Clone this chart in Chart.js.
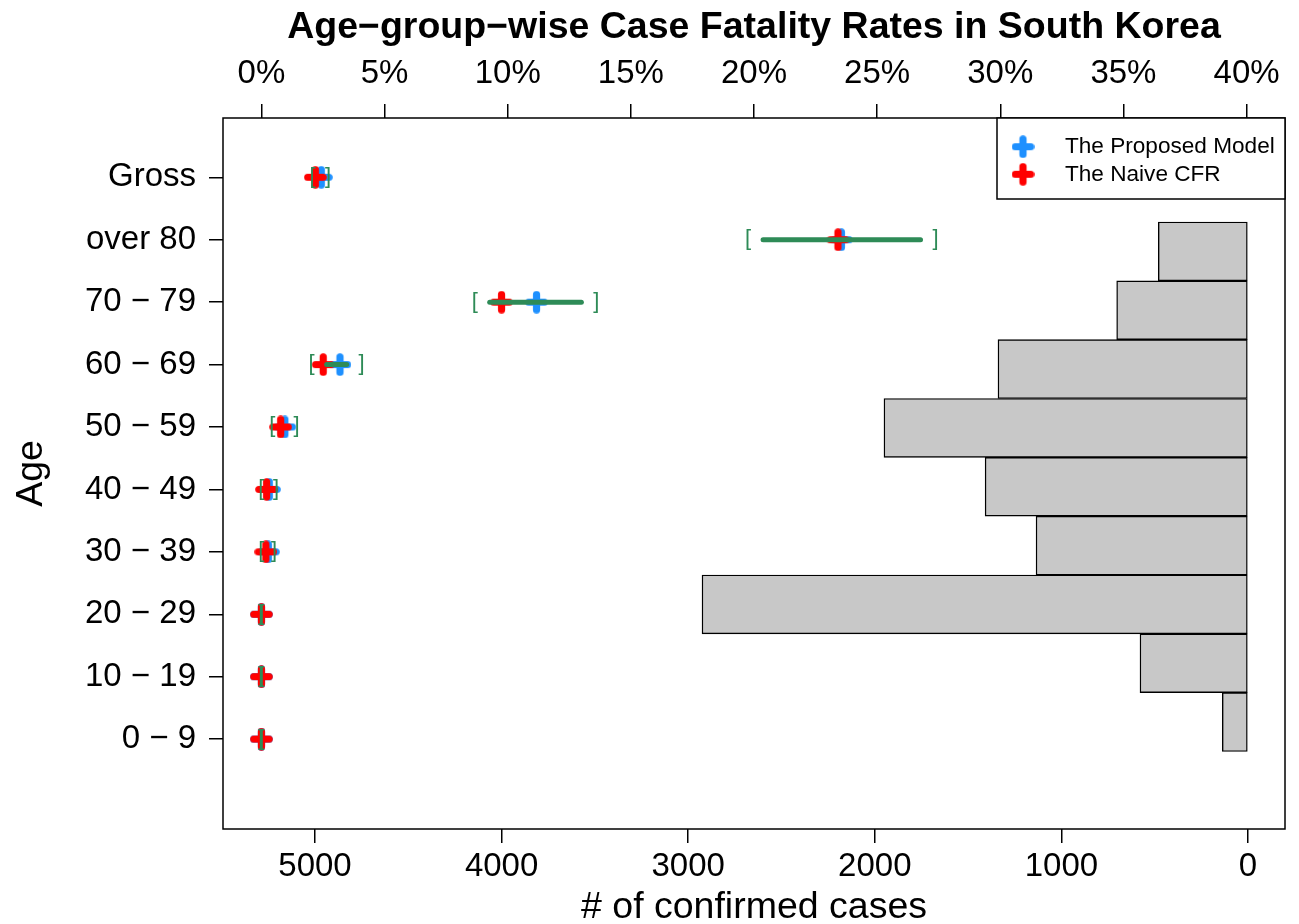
<!DOCTYPE html>
<html>
<head>
<meta charset="utf-8">
<title>Age-group-wise Case Fatality Rates in South Korea</title>
<script src="https://cdn.jsdelivr.net/npm/chart.js@4.4.1/dist/chart.umd.min.js"></script>
<style>
  html, body { margin: 0; padding: 0; background: #fff; }
  #wrap { width: 1299px; height: 924px; }
</style>
</head>
<body>
<div id="wrap"><canvas id="cfrChart"></canvas></div>
<script>
// rows bottom -> top
const ageGroups     = ['0 − 9', '10 − 19', '20 − 29', '30 − 39', '40 − 49', '50 − 59', '60 − 69', '70 − 79', 'over 80', 'Gross'];
// CFR in %
const proposedModel = [0, 0, 0, 0.28, 0.32, 0.95, 3.19, 11.17, 23.55, 2.43];
const naiveCFR      = [0, 0, 0, 0.18, 0.21, 0.78, 2.51, 9.75, 23.41, 2.19];
const ciLower       = [0, 0, 0, 0, 0, 0.44, 2.04, 8.66, 19.76, 2.08];
const ciUpper       = [0, 0, 0, 0.51, 0.59, 1.43, 4.07, 13.60, 27.37, 2.71];
// confirmed cases per age group (0-9 .. over 80)
const confirmedCases = [138, 579, 2926, 1136, 1409, 1951, 1340, 704, 481];

const pctTicks  = [0, 5, 10, 15, 20, 25, 30, 35, 40];
const caseTicks = [0, 1000, 2000, 3000, 4000, 5000];
const legendLabels = ['The Proposed Model', 'The Naive CFR'];

const BLUE  = '#1e90ff';
const RED   = '#ff0000';
const GREEN = '#2e8b57';
const FONT  = '"Liberation Sans", Arial, Helvetica, sans-serif';

Chart.defaults.font.family = FONT;
Chart.defaults.color = '#000';

// thick "+" marker with round ends, like R's pch = 3 with a heavy lwd
function crossImage(color) {
  const c = document.createElement('canvas');
  c.width = 23; c.height = 23;
  const g = c.getContext('2d');
  g.strokeStyle = color;
  g.lineWidth = 7.2;
  g.lineCap = 'round';
  g.beginPath();
  g.moveTo(3.8, 11.5); g.lineTo(19.2, 11.5);
  g.moveTo(11.5, 3.8); g.lineTo(11.5, 19.2);
  g.stroke();
  return c;
}
const blueCross = crossImage(BLUE);
const redCross  = crossImage(RED);

// green interval line + [ ] brackets, drawn over the markers
const ciPlugin = {
  id: 'ciBars',
  afterDatasetsDraw(chart) {
    const { ctx, scales: { x, y } } = chart;
    const inset = 15;
    ctx.save();
    ctx.strokeStyle = GREEN;
    ctx.fillStyle = GREEN;
    ctx.lineWidth = 5;
    ctx.lineCap = 'round';
    ctx.font = '22px ' + FONT;
    ctx.textAlign = 'center';
    ctx.textBaseline = 'alphabetic';
    ageGroups.forEach((_, i) => {
      const lo = x.getPixelForValue(ciLower[i]);
      const hi = x.getPixelForValue(ciUpper[i]);
      const py = y.getPixelForValue(i + 1);
      if (hi - lo > 2 * inset) {
        ctx.beginPath();
        ctx.moveTo(lo + inset, py);
        ctx.lineTo(hi - inset, py);
        ctx.stroke();
      }
      ctx.fillText('[', lo, py + 5.5);
      ctx.fillText(']', hi, py + 5.5);
    });
    ctx.restore();
  }
};

// plot frame + boxed legend in the top-right corner
const framePlugin = {
  id: 'frameLegend',
  afterDraw(chart) {
    const { ctx, chartArea: ca } = chart;
    ctx.save();
    ctx.strokeStyle = '#000';
    ctx.lineWidth = 1.5;
    ctx.strokeRect(ca.left, ca.top, ca.right - ca.left, ca.bottom - ca.top);

    const w = 288, h = 81;
    const left = ca.right - w, top = ca.top;
    ctx.fillStyle = '#fff';
    ctx.fillRect(left, top, w, h);
    ctx.strokeRect(left, top, w, h);

    const marks = [blueCross, redCross];
    ctx.fillStyle = '#000';
    ctx.font = '22.6px ' + FONT;
    ctx.textAlign = 'left';
    ctx.textBaseline = 'middle';
    legendLabels.forEach((t, i) => {
      const cy = top + 28.7 + i * 27.6;
      ctx.drawImage(marks[i], left + 26 - 11.5, cy - 11.5);
      ctx.fillText(t, left + 68, cy);
    });
    ctx.restore();
  }
};

new Chart(document.getElementById('cfrChart'), {
  type: 'scatter',
  data: {
    datasets: [
      {
        label: legendLabels[0],
        data: proposedModel.map((v, i) => ({ x: v, y: i + 1 })),
        xAxisID: 'x', yAxisID: 'y',
        pointStyle: blueCross,
        pointRadius: 11,
        order: 2,
      },
      {
        label: legendLabels[1],
        data: naiveCFR.map((v, i) => ({ x: v, y: i + 1 })),
        xAxisID: 'x', yAxisID: 'y',
        pointStyle: redCross,
        pointRadius: 11,
        order: 1,
      },
      {
        type: 'bar',
        label: '# of confirmed cases',
        indexAxis: 'y',
        data: confirmedCases.map((v, i) => ({ x: v, y: i + 1 })),
        xAxisID: 'xc', yAxisID: 'y2',
        backgroundColor: '#c8c8c8',
        borderColor: '#000',
        borderWidth: 1.4,
        borderSkipped: false,
        grouped: false,
        barPercentage: 1,
        categoryPercentage: 1,
        order: 3,
      },
    ],
  },
  options: {
    responsive: true,
    maintainAspectRatio: false,
    animation: false,
    devicePixelRatio: 1,
    layout: { padding: { left: 0, right: 14, top: 0, bottom: 0 } },
    plugins: {
      legend: { display: false },
      tooltip: { enabled: false },
      title: {
        display: true,
        fullSize: false,
        text: 'Age−group−wise Case Fatality Rates in South Korea',
        font: { size: 37.5, weight: 'bold' },
        color: '#000',
        padding: { top: 5, bottom: 0 },
      },
    },
    scales: {
      x: {
        type: 'linear',
        position: 'top',
        min: -1.56, max: 41.56,
        afterBuildTicks: s => { s.ticks = pctTicks.map(v => ({ value: v })); },
        afterFit: s => { s.height = 68; },
        ticks: { callback: v => v + '%', font: { size: 33 }, color: '#000', padding: 10, autoSkip: false, maxRotation: 0 },
        grid: { drawOnChartArea: false, drawTicks: true, tickLength: 14, color: '#000', lineWidth: 1.5 },
        border: { display: false },
      },
      xc: {
        type: 'linear',
        position: 'bottom',
        reverse: true,
        min: -198, max: 5493,
        afterBuildTicks: s => { s.ticks = caseTicks.map(v => ({ value: v })); },
        afterFit: s => { s.height = 95; },
        ticks: { callback: v => String(v), font: { size: 33 }, color: '#000', padding: 4, autoSkip: false, maxRotation: 0 },
        grid: { drawOnChartArea: false, drawTicks: true, tickLength: 14, color: '#000', lineWidth: 1.5 },
        border: { display: false },
        title: { display: true, text: '# of confirmed cases', font: { size: 37.5 }, color: '#000', padding: { top: 0, bottom: -6 } },
      },
      y: {
        type: 'linear',
        position: 'left',
        min: -0.44, max: 10.95,
        afterBuildTicks: s => { s.ticks = ageGroups.map((_, i) => ({ value: i + 1 })); },
        afterFit: s => { s.width = 223; },
        ticks: { callback: v => ageGroups[v - 1], font: { size: 33 }, color: '#000', padding: 13, autoSkip: false },
        grid: { drawOnChartArea: false, drawTicks: true, tickLength: 14, color: '#000', lineWidth: 1.5 },
        border: { display: false },
        title: { display: true, text: 'Age', font: { size: 37.5 }, color: '#000', padding: { top: 9, bottom: 0 } },
      },
      // separate row axis for the histogram bars (kept invisible, zero width)
      y2: {
        type: 'linear',
        position: 'right',
        offset: false,
        min: -0.817, max: 11.267,
        afterBuildTicks: s => { s.ticks = confirmedCases.map((_, i) => ({ value: i + 1 })); },
        afterFit: s => { s.width = 0; },
        ticks: { display: false },
        grid: { display: false, offset: false },
        border: { display: false },
      },
    },
  },
  plugins: [ciPlugin, framePlugin],
});
</script>
</body>
</html>
